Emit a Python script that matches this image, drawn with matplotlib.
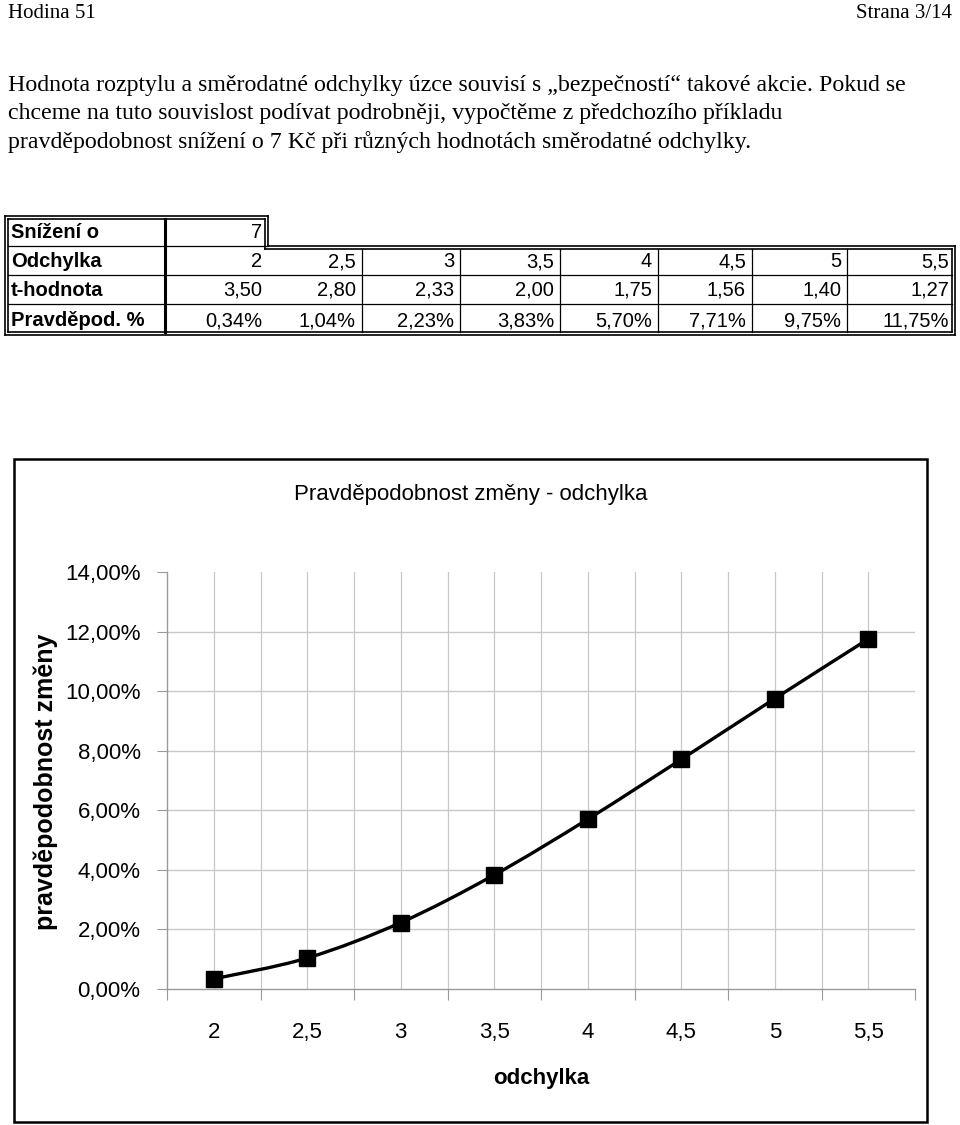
import numpy as np
import matplotlib
matplotlib.use('Agg')
import matplotlib.pyplot as plt
from matplotlib.path import Path
from matplotlib.patches import PathPatch, Rectangle
from matplotlib import font_manager

# data
snizeni_o = 7
odchylka = [2, 2.5, 3, 3.5, 4, 4.5, 5, 5.5]
t_hodnota = [3.50, 2.80, 2.33, 2.00, 1.75, 1.56, 1.40, 1.27]
pravdepodobnost = [0.34, 1.04, 2.23, 3.83, 5.70, 7.71, 9.75, 11.75]
y_ticks = [0, 2, 4, 6, 8, 10, 12, 14]

header_left = 'Hodina 51'
header_right = 'Strana 3/14'
paragraph = [
    'Hodnota rozptylu a směrodatné odchylky úzce souvisí s „bezpečností“ takové akcie. Pokud se',
    'chceme na tuto souvislost podívat podrobněji, vypočtěme z předchozího příkladu',
    'pravděpodobnost snížení o 7 Kč při různých hodnotách směrodatné odchylky.',
]
chart_title = 'Pravděpodobnost změny - odchylka'


def cz(v, nd):
    return f'{v:.{nd}f}'.replace('.', ',')


def cz_num(v):
    return f'{v:g}'.replace('.', ',')


names = {f.name for f in font_manager.fontManager.ttflist}
narrow = 'Liberation Sans Narrow' if 'Liberation Sans Narrow' in names else 'Liberation Sans'
serif = 'Liberation Serif'
sans = 'Liberation Sans'

W, H = 960, 1125
fig = plt.figure(figsize=(9.6, 11.25), dpi=100)


def fx(x):
    return x / W


def fy(y):
    return 1 - y / H


def hline(x0, x1, y, lw=1.0, color='black'):
    fig.add_artist(plt.Line2D([fx(x0), fx(x1)], [fy(y), fy(y)], lw=lw, color=color))


def vline(x, y0, y1, lw=1.0, color='black'):
    fig.add_artist(plt.Line2D([fx(x), fx(x)], [fy(y0), fy(y1)], lw=lw, color=color))


# header and paragraph
fig.text(fx(8), fy(13), header_left, family=serif, fontsize=15, va='center', ha='left')
fig.text(fx(952), fy(13), header_right, family=serif, fontsize=15, va='center', ha='right')
for i, line in enumerate(paragraph):
    fig.text(fx(8), fy(85 + i * 28.5), line, family=serif, fontsize=17.2, va='center', ha='left')

# table
col_x = [5, 165, 268, 362, 460, 560, 658, 752, 847, 955]
row_y = [216, 246, 275, 304, 335]
labels = ['Snížení o', 'Odchylka', 't-hodnota', 'Pravděpod. %']
rows = [
    [cz_num(v) for v in odchylka],
    [cz(v, 2) for v in t_hodnota],
    [cz(v, 2) + '%' for v in pravdepodobnost],
]
tfs = 14.5
for r, lab in enumerate(labels):
    yc = (row_y[r] + row_y[r + 1]) / 2 + 1
    fig.text(fx(col_x[0] + 6), fy(yc), lab, family=sans, fontsize=tfs, weight='bold',
             va='center', ha='left')
fig.text(fx(col_x[2] - 6), fy((row_y[0] + row_y[1]) / 2 + 1), str(snizeni_o),
         family=sans, fontsize=tfs, va='center', ha='right')
for r, vals in enumerate(rows, start=1):
    yc = (row_y[r] + row_y[r + 1]) / 2 + 1
    for c, v in enumerate(vals):
        fig.text(fx(col_x[c + 2] - 6), fy(yc), v, family=sans, fontsize=tfs,
                 va='center', ha='right')

# outer double border with a step
d = 3
for o in (0, d):
    hline(col_x[0] + o, col_x[2] - o, row_y[0] + o, lw=1.2)
    vline(col_x[2] - o, row_y[0] + o, row_y[1] + o, lw=1.2)
    hline(col_x[2] - o, col_x[-1] - o, row_y[1] + o, lw=1.2)
    vline(col_x[-1] - o, row_y[1] + o, row_y[-1] - o, lw=1.2)
    hline(col_x[0] + o, col_x[-1] - o, row_y[-1] - o, lw=1.2)
    vline(col_x[0] + o, row_y[0] + o, row_y[-1] - o, lw=1.2)
# inner lines
for y in row_y[2:-1]:
    hline(col_x[0] + d, col_x[-1] - d, y, lw=0.9)
hline(col_x[0] + d, col_x[2], row_y[1], lw=0.9)
vline(col_x[1], row_y[0] + d, row_y[-1] - d, lw=2.2)
for x in col_x[3:-1]:
    vline(x, row_y[1] + d, row_y[-1] - d, lw=0.9)

# chart box
fig.add_artist(Rectangle((fx(14), fy(1122)), fx(927) - fx(14), fy(459) - fy(1122),
                         fill=False, lw=1.8, ec='black', transform=fig.transFigure))
fig.text(fx(471), fy(495), chart_title, family=narrow, fontsize=16, ha='center', va='center')

left, right, top, bottom = 167, 915, 572, 989
ax = fig.add_axes([fx(left), fy(bottom), fx(right) - fx(left), fy(top) - fy(bottom)])
xs = np.arange(len(odchylka))
ax.set_xlim(-0.5, len(odchylka) - 0.5)
ax.set_ylim(y_ticks[0], y_ticks[-1])

grid_c = '#c8c8c8'
for y in y_ticks[1:-1]:
    ax.axhline(y, color=grid_c, lw=1.0, zorder=0)
for x in xs:
    ax.axvline(x, color=grid_c, lw=0.9, zorder=0)
for x in xs[:-1] + 0.5:
    ax.axvline(x, color=grid_c, lw=0.9, zorder=0)

for s in ('top', 'right'):
    ax.spines[s].set_visible(False)
for s in ('left', 'bottom'):
    ax.spines[s].set_color('#999999')
    ax.spines[s].set_linewidth(1.0)

tick_fs = 16
ax.set_yticks(y_ticks)
ax.set_yticklabels([cz(v, 2) + '%' for v in y_ticks], family=narrow, fontsize=tick_fs)
ax.tick_params(axis='y', length=7, color='#999999', pad=12)
ax.set_xticks(np.arange(len(odchylka) + 1) - 0.5)
ax.set_xticklabels([])
ax.tick_params(axis='x', which='major', length=8, color='#999999')
ax.set_xticks(xs, minor=True)
ax.set_xticklabels([cz_num(v) for v in odchylka], minor=True, family=narrow, fontsize=tick_fs)
ax.tick_params(axis='x', which='minor', length=0, pad=24)

# smoothed line (Catmull-Rom through the data points, drawn as Bezier path)
pts = np.column_stack([xs, pravdepodobnost]).astype(float)
verts = [pts[0]]
codes = [Path.MOVETO]
for i in range(len(pts) - 1):
    p0 = pts[i - 1] if i > 0 else pts[i]
    p1, p2 = pts[i], pts[i + 1]
    p3 = pts[i + 2] if i + 2 < len(pts) else pts[i + 1]
    verts += [p1 + (p2 - p0) / 6, p2 - (p3 - p1) / 6, p2]
    codes += [Path.CURVE4] * 3
ax.add_patch(PathPatch(Path(verts, codes), fill=False, lw=2.4, ec='black', zorder=3))
ax.plot(xs, pravdepodobnost, ls='none', marker='s', ms=11, color='black', zorder=4)

ax.set_xlabel('odchylka', family=narrow, fontsize=16, weight='bold', labelpad=18)
fig.text(fx(46), fy(782), 'pravděpodobnost změny', family=sans, fontsize=18, weight='bold',
         rotation=90, ha='center', va='center')

fig.savefig('out.png', dpi=100)
